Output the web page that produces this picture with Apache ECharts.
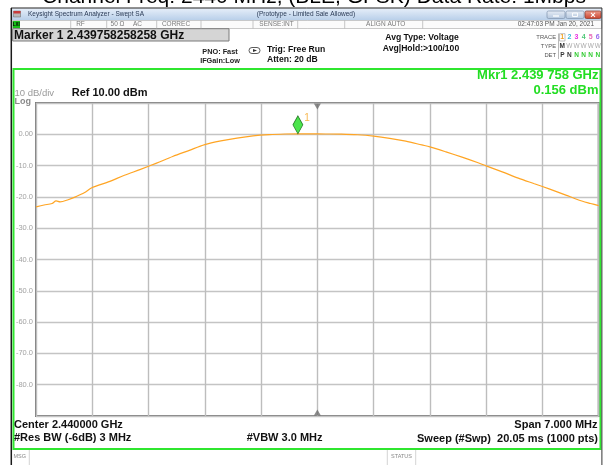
<!DOCTYPE html>
<html>
<head>
<meta charset="utf-8">
<script src="https://cdn.jsdelivr.net/npm/echarts@6/dist/echarts.min.js"></script>
<style>
html,body{margin:0;padding:0;background:#fff;}
#chart{width:609px;height:465px;}
</style>
</head>
<body>
<div id="chart"></div>
<script>
// ---- data ----
// frequency offset from center 2440 MHz (MHz)
const freqOffsetMHz = [-3.5,-3.4,-3.3,-3.25,-3.2,-3.1,-3.0,-2.9,-2.8,-2.6,-2.4,-2.2,-2.0,-1.8,-1.6,-1.4,-1.2,-1.0,-0.8,-0.6,-0.4,-0.242,-0.1,0.1,0.3,0.5,0.7,0.9,1.1,1.3,1.4,1.6,1.8,2.0,2.1,2.3,2.5,2.7,2.9,3.1,3.2,3.3,3.4,3.5];
// trace 1 amplitude (dBm)
const traceDbm = [-23.2,-22.6,-22.1,-21.3,-21.6,-20.9,-19.9,-18.7,-17.0,-15.2,-13.1,-11.2,-9.2,-7.1,-5.2,-3.3,-2.1,-1.2,-0.5,-0.1,0.1,0.156,0.13,0.1,0.05,-0.15,-0.6,-1.3,-2.2,-3.4,-4.0,-5.6,-7.3,-9.1,-10.1,-12.0,-14.0,-15.8,-17.6,-19.5,-20.5,-21.4,-22.1,-22.8];
const markerFreqOffset = [-0.242];
const markerDbm = [0.156];
const centerMarkFreq = [0, 0];
const centerMarkLevel = [10, -90];
const yTickValues = [0,-10,-20,-30,-40,-50,-60,-70,-80];
const yTickLabels = ['0.00','-10.0','-20.0','-30.0','-40.0','-50.0','-60.0','-70.0','-80.0'];

const FONT = "'Liberation Sans', Arial, sans-serif";
function T(text, x, y, size, opts) {
  opts = opts || {};
  return {
    type: 'text', x: x, y: y, z: 10, silent: true,
    style: {
      text: text,
      font: (opts.bold ? 'bold ' : '') + size + 'px ' + FONT,
      fill: opts.color || '#000',
      align: opts.align || 'left',
      verticalAlign: 'middle'
    }
  };
}
function R(x, y, w, h, fill, stroke, lw, r) {
  return {type:'rect', z: 5, silent:true, shape:{x:x,y:y,width:w,height:h,r:r||0},
    style:{fill: fill || 'none', stroke: stroke || 'none', lineWidth: lw || 1}};
}
function L(x1, y1, x2, y2, color, lw) {
  return {type:'line', z: 6, silent:true, shape:{x1:x1,y1:y1,x2:x2,y2:y2},
    style:{stroke: color, lineWidth: lw || 1}};
}

const graphics = [];
// title (partially cut off at top)
graphics.push(T('Channel Freq: 2440 MHz, (BLE, GFSK) Data Rate: 1Mbps', 314, -2.8, 21, {color:'#000', align:'center'}));
// window title bar
graphics.push({type:'rect', z:4, silent:true, shape:{x:11,y:8.3,width:591,height:12},
  style:{fill:{type:'linear',x:0,y:0,x2:0,y2:1,colorStops:[{offset:0,color:'#e6eef9'},{offset:1,color:'#b8cfe9'}]}}});
graphics.push(L(11, 8, 602, 8, '#222', 1));
graphics.push(R(13.5, 11, 7, 6, '#b8b8b8', '#666', 0.5));
graphics.push(R(13.5, 11, 7, 2.5, '#c83c3c'));
graphics.push(T('Keysight Spectrum Analyzer - Swept SA', 28, 14.5, 6.5, {color:'#2a3a55'}));
graphics.push(T('(Prototype - Limited Sale Allowed)', 306, 14.5, 6.5, {color:'#2a3a55', align:'center'}));
// window buttons
graphics.push({type:'rect', z:5, silent:true, shape:{x:547,y:11,width:18,height:7.5,r:1.5},
  style:{fill:{type:'linear',x:0,y:0,x2:0,y2:1,colorStops:[{offset:0,color:'#e8eef6'},{offset:1,color:'#b3c6de'}]}, stroke:'#7f93ad', lineWidth:0.7}});
graphics.push({type:'rect', z:5, silent:true, shape:{x:566,y:11,width:18,height:7.5,r:1.5},
  style:{fill:{type:'linear',x:0,y:0,x2:0,y2:1,colorStops:[{offset:0,color:'#e8eef6'},{offset:1,color:'#b3c6de'}]}, stroke:'#7f93ad', lineWidth:0.7}});
graphics.push({type:'rect', z:5, silent:true, shape:{x:585,y:11,width:16,height:7.5,r:1.5},
  style:{fill:{type:'linear',x:0,y:0,x2:0,y2:1,colorStops:[{offset:0,color:'#f0a090'},{offset:1,color:'#c8402c'}]}, stroke:'#8a3020', lineWidth:0.7}});
graphics.push(L(553, 16, 559, 16, '#fff', 1.3));
graphics.push(R(572.5, 13, 5, 3.5, 'none', '#fff', 0.9));
graphics.push(L(591, 12.8, 595, 16.8, '#fff', 1.1));
graphics.push(L(595, 12.8, 591, 16.8, '#fff', 1.1));
// status row
graphics.push(R(12.7, 20.5, 589, 8, '#fbfbfb', '#a8a8a8', 0.6));
graphics.push(R(12.7, 21, 7.3, 7, '#19c019'));
graphics.push(T('LXI', 16.3, 24.6, 4.5, {color:'#000', bold:true, align:'center'}));
[70.7, 106.7, 156.7, 201, 253, 297.7, 344.7, 422.7].forEach(function (sx) {
  graphics.push(L(sx, 20.5, sx, 28.5, '#b0b0b0', 0.7));
});
const stC = '#7a7a7a';
graphics.push(T('RF', 80.5, 24.6, 6.5, {color:stC, align:'center'}));
graphics.push(T('50 Ω', 117.5, 24.6, 6.5, {color:stC, align:'center'}));
graphics.push(T('AC', 137.5, 24.6, 6.5, {color:stC, align:'center'}));
graphics.push(T('CORREC', 176, 24.6, 6.5, {color:stC, align:'center'}));
graphics.push(T('SENSE:INT', 276.5, 24.6, 6.5, {color:stC, align:'center'}));
graphics.push(T('ALIGN AUTO', 385.7, 24.6, 6.5, {color:stC, align:'center'}));
graphics.push(T('02:47:03 PM Jan 20, 2021', 594, 24.6, 6.5, {color:'#555', align:'right'}));
// marker readout box
graphics.push(R(12.7, 28.7, 216.3, 12.3, '#d5d5d5', '#7a7a7a', 1));
graphics.push(T('Marker 1 2.439758258258 GHz', 14, 35.2, 12, {bold:true, color:'#111'}));
// settings texts
graphics.push(T('PNO: Fast', 220, 51.7, 7.3, {bold:true, align:'center', color:'#222'}));
graphics.push(T('IFGain:Low', 220, 60.5, 7.3, {bold:true, align:'center', color:'#222'}));
graphics.push(R(249, 47.5, 11, 6, '#fff', '#333', 0.8, 3));
graphics.push({type:'polygon', z:6, silent:true, shape:{points:[[253,49],[257,50.5],[253,52]]}, style:{fill:'#333'}});
graphics.push(T('Trig: Free Run', 267, 49.2, 8.6, {bold:true, color:'#111'}));
graphics.push(T('Atten: 20 dB', 267, 59.3, 8.6, {bold:true, color:'#111'}));
graphics.push(T('Avg Type: Voltage', 422, 37.5, 8.6, {bold:true, align:'center', color:'#111'}));
graphics.push(T('Avg|Hold:>100/100', 421, 48.3, 8.6, {bold:true, align:'center', color:'#111'}));
// trace info block
graphics.push(T('TRACE', 556, 37.3, 5.8, {color:'#555', align:'right'}));
graphics.push(T('TYPE', 556, 46.5, 5.8, {color:'#555', align:'right'}));
graphics.push(T('DET', 556, 55.3, 5.8, {color:'#555', align:'right'}));
graphics.push(L(558.5, 33.5, 558.5, 59, '#888', 0.6));
graphics.push(R(559.5, 33.7, 5.5, 7.3, 'none', '#999', 0.6));
const trColors = ['#f0a020','#38b8d8','#e830e0','#50c878','#e868b8','#9a6af0'];
['1','2','3','4','5','6'].forEach(function (t, i) {
  graphics.push(T(t, 562.3 + i * 7.1, 37.5, 7, {bold:true, align:'center', color: trColors[i]}));
});
graphics.push(T('M', 562.3, 46.5, 6.5, {bold:true, align:'center', color:'#333'}));
['W','W','W','W','W'].forEach(function (t, i) {
  graphics.push(T(t, 569.4 + i * 7.1, 46.5, 6.5, {align:'center', color:'#aaa'}));
});
graphics.push(T('P', 562.3, 55.5, 6.5, {bold:true, align:'center', color:'#333'}));
graphics.push(T('N', 569.4, 55.5, 6.5, {bold:true, align:'center', color:'#333'}));
['N','N','N','N'].forEach(function (t, i) {
  graphics.push(T(t, 576.5 + i * 7.1, 55.5, 6.5, {bold:true, align:'center', color:'#33cc33'}));
});
// green measurement frame
graphics.push(R(13.5, 69, 587, 380, 'none', '#2fe62f', 2));
graphics.push(L(11.3, 8, 11.3, 465, '#1a1a1a', 1.5));
graphics.push(L(601.9, 8, 601.9, 465, '#333', 1));
// readouts inside frame
graphics.push(T('Mkr1 2.439 758 GHz', 598.5, 75.2, 13, {bold:true, align:'right', color:'#22dd22'}));
graphics.push(T('0.156 dBm', 598.5, 90, 13, {bold:true, align:'right', color:'#22dd22'}));
graphics.push(T('10 dB/div', 14.5, 93.2, 9.5, {color:'#9a9a9a'}));
graphics.push(T('Log', 14.5, 101.6, 9, {bold:true, color:'#8a8a8a'}));
graphics.push(T('Ref 10.00 dBm', 71.7, 93.2, 11, {bold:true, color:'#111'}));
graphics.push(T('Center 2.440000 GHz', 14, 424.5, 11, {bold:true, color:'#111'}));
graphics.push(T('#Res BW (-6dB) 3 MHz', 14, 438.4, 11, {bold:true, color:'#111'}));
graphics.push(T('#VBW 3.0 MHz', 246.7, 438.4, 11, {bold:true, color:'#111'}));
graphics.push(T('Span 7.000 MHz', 597.5, 424.5, 11, {bold:true, color:'#111', align:'right'}));
graphics.push(T('Sweep (#Swp)  20.05 ms (1000 pts)', 598, 439.4, 11, {bold:true, color:'#111', align:'right'}));
// bottom message row
graphics.push(L(29.3, 450, 29.3, 465, '#c8c8c8', 0.8));
graphics.push(L(387.3, 450, 387.3, 465, '#c8c8c8', 0.8));
graphics.push(L(415.7, 450, 415.7, 465, '#c8c8c8', 0.8));
graphics.push(T('MSG', 13.5, 456.8, 5.5, {color:'#888'}));
graphics.push(T('STATUS', 401.5, 456.8, 5.5, {color:'#888', align:'center'}));

const chart = echarts.init(document.getElementById('chart'), null, {renderer:'canvas'});
chart.setOption({
  animation: false,
  backgroundColor: '#fff',
  grid: {left: 36, top: 103, width: 562.7, height: 313, show: true,
         borderColor: '#7c7c7c', borderWidth: 2, backgroundColor: '#fff'},
  xAxis: {
    type: 'value', min: -3.5, max: 3.5, interval: 0.7,
    axisLine: {show: false}, axisTick: {show: false}, axisLabel: {show: false},
    splitLine: {show: true, lineStyle: {color: '#bdbdbd', width: 1.4}}
  },
  yAxis: {
    type: 'value', min: -90, max: 10, interval: 10,
    axisLine: {show: false}, axisTick: {show: false},
    axisLabel: {
      margin: 3, color: '#a3a3a3', fontSize: 7.5, fontFamily: FONT,
      formatter: function (v) {
        const i = yTickValues.indexOf(Math.round(v));
        return i >= 0 ? yTickLabels[i] : '';
      }
    },
    splitLine: {show: true, lineStyle: {color: '#c4c4c4', width: 1.4}}
  },
  series: [
    {
      name: 'Trace 1', type: 'line', smooth: 0.3, showSymbol: false, symbol: 'none',
      data: freqOffsetMHz.map(function (f, i) { return [f, traceDbm[i]]; }),
      lineStyle: {color: '#ffa524', width: 1.2}, z: 3
    },
    {
      name: 'Center', type: 'scatter', clip: false, z: 4,
      data: centerMarkFreq.map(function (f, i) {
        return {value: [f, centerMarkLevel[i]], symbolRotate: i === 0 ? 180 : 0,
                symbolOffset: [0, i === 0 ? 3.5 : -3.5]};
      }),
      symbol: 'triangle', symbolSize: [7, 6],
      itemStyle: {color: '#6e6e6e'}
    },
    {
      name: 'Marker 1', type: 'scatter', clip: false, z: 5,
      data: markerFreqOffset.map(function (f, i) { return [f, markerDbm[i]]; }),
      symbol: 'diamond', symbolSize: [10, 18], symbolOffset: [0, -9],
      itemStyle: {color: '#1fdd1f', borderColor: '#0b5a0b', borderWidth: 0.8},
      label: {show: true, formatter: '1', position: 'right', distance: 1, offset: [0, -7],
              color: '#f5a623', fontSize: 10, fontFamily: FONT}
    }
  ],
  graphic: {elements: graphics}
});
</script>
</body>
</html>
